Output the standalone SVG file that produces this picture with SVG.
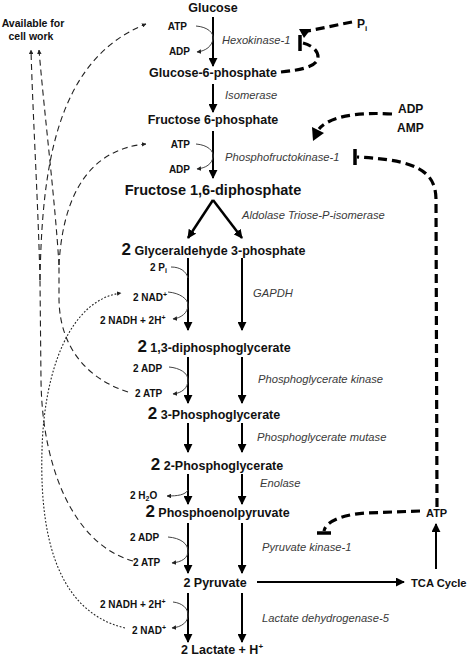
<svg xmlns="http://www.w3.org/2000/svg" width="472" height="657" viewBox="0 0 472 657">
<defs>
<style>
text{font-family:"Liberation Sans",Arial,sans-serif;fill:#111}
.m{font-size:12.5px;font-weight:bold}
.big{font-size:17px}
.c{font-size:10px;font-weight:bold}
.e{font-size:11.2px;font-style:italic;fill:#3a3a3a}
.r{font-size:12px;font-weight:bold}
.main{stroke:#000;stroke-width:2;fill:none;marker-end:url(#arr)}
.co{stroke:#444;stroke-width:1;fill:none}
.coa{marker-end:url(#sa)}
.td{stroke:#000;stroke-width:3.2;fill:none;stroke-dasharray:9 5}
.ld{stroke:#222;stroke-width:1.1;fill:none;stroke-dasharray:6 4}
.dt{stroke:#222;stroke-width:1.1;fill:none;stroke-dasharray:1.8 1.8}
.bar{stroke:#000;stroke-width:3.5}
</style>
<marker id="arr" viewBox="0 0 10 10" refX="9" refY="5" markerWidth="9" markerHeight="9" markerUnits="userSpaceOnUse" orient="auto"><path d="M0,0 L10,5 L0,10 z" fill="#000"/></marker>
<marker id="sa" viewBox="0 0 10 10" refX="9" refY="5" markerWidth="4.5" markerHeight="4.5" markerUnits="userSpaceOnUse" orient="auto"><path d="M0,0 L10,5 L0,10 z" fill="#222"/></marker>
</defs>
<rect width="472" height="657" fill="#fff"/>

<g id="connectors">
<!-- main pathway arrows -->
<line class="main" x1="213" y1="17" x2="213" y2="66"/>
<line class="main" x1="213" y1="84" x2="213" y2="112"/>
<line class="main" x1="213" y1="131" x2="213" y2="178"/>
<line class="main" style="stroke-width:2.5" x1="213" y1="200" x2="188" y2="238"/>
<line class="main" style="stroke-width:2.5" x1="213" y1="200" x2="242" y2="238"/>
<line class="main" x1="188" y1="258" x2="188" y2="330"/>
<line class="main" x1="242" y1="258" x2="242" y2="330"/>
<line class="main" x1="188" y1="357" x2="188" y2="403"/>
<line class="main" x1="242" y1="357" x2="242" y2="403"/>
<line class="main" x1="188" y1="423" x2="188" y2="452"/>
<line class="main" x1="242" y1="423" x2="242" y2="452"/>
<line class="main" x1="188" y1="474" x2="188" y2="504"/>
<line class="main" x1="242" y1="474" x2="242" y2="504"/>
<line class="main" x1="188" y1="523" x2="188" y2="573"/>
<line class="main" x1="242" y1="523" x2="242" y2="573"/>
<line class="main" x1="188" y1="593" x2="188" y2="642"/>
<line class="main" x1="242" y1="593" x2="242" y2="642"/>
<line class="main" x1="257" y1="582" x2="404" y2="582"/>
<line class="main" x1="436" y1="569" x2="436" y2="524"/>
<!-- cofactor curves -->
<path class="co coa" d="M196,26 C208,27 214,33 213,39 C212,46 206,51 197,52"/>
<path class="co coa" d="M196,144 C208,145 214,151 213,157 C212,164 206,168 197,169"/>
<path class="co" d="M171,267 C180,267 186,271 188,278"/>
<path class="co coa" d="M168,292 C180,293 188,299 188,305 C188,313 181,318 173,319"/>
<path class="co coa" d="M169,367 C180,368 188,373 188,380 C188,388 182,393 173,394"/>
<path class="co coa" d="M188,490 C185,495 178,496 167,496"/>
<path class="co coa" d="M168,537 C181,538 188,544 188,551 C188,558 182,562 172,563"/>
<path class="co coa" d="M173,602 C182,603 188,608 188,615 C188,622 182,627 172,628"/>
<!-- regulation (thick dashed) -->
<path class="td" d="M352,22 L308,31"/>
<polygon points="299,29 311,29 304,38" fill="#000"/>
<path class="td" d="M281,72 C300,70 318,67 318,57 C318,50 311,45 303,43"/>
<line class="bar" x1="300" y1="35" x2="300" y2="51"/>
<path class="td" d="M392,114 C358,112 330,116 319,129"/>
<polygon points="313,141 324,133 312,127" fill="#000"/>
<path class="td" d="M437,507 L436,200 C436,170 415,160 357,157"/>
<line class="bar" x1="355" y1="149" x2="355" y2="165"/>
<path class="td" d="M420,511 L365,513 C340,515 326,522 324,531"/>
<line class="bar" x1="317" y1="533" x2="331" y2="533"/>
<!-- ATP usage (long dashed) -->
<path class="ld" d="M133,561 C75,545 42,470 41,380 L40,280"/>
<path class="ld" d="M40,280 C38,200 33,120 31,50" style="marker-end:url(#sa)"/>
<path class="ld" d="M40,280 C42,170 55,60 146,24" style="marker-end:url(#sa)"/>
<path class="ld" d="M128,392 C90,380 60,350 59,300 L59,265"/>
<path class="ld" d="M59,265 C55,200 45,120 39,50" style="marker-end:url(#sa)"/>
<path class="ld" d="M59,265 C62,210 80,150 146,144" style="marker-end:url(#sa)"/>
<!-- NAD+ regeneration (dotted) -->
<path class="dt" d="M125,628 C50,610 40,520 42,450 C44,370 70,300 121,293" style="marker-end:url(#sa)"/>
</g>

<g id="glucose"><text class="m" x="213" y="12" text-anchor="middle">Glucose</text></g>
<g id="hexokinase">
<text class="c" x="187" y="30" text-anchor="end">ATP</text>
<text class="c" x="190" y="55" text-anchor="end">ADP</text>
<text class="e" x="222" y="44">Hexokinase-1</text>
</g>
<g id="g6p"><text class="m" x="213" y="77" text-anchor="middle">Glucose-6-phosphate</text></g>
<g id="isomerase"><text class="e" x="225" y="99">Isomerase</text></g>
<g id="f6p"><text class="m" x="213" y="124" text-anchor="middle">Fructose 6-phosphate</text></g>
<g id="pfk">
<text class="c" x="190" y="148" text-anchor="end">ATP</text>
<text class="c" x="190" y="173" text-anchor="end">ADP</text>
<text class="e" x="225" y="161">Phosphofructokinase-1</text>
</g>
<g id="f16bp"><text class="m" style="font-size:14.5px" x="213" y="195" text-anchor="middle">Fructose 1,6-diphosphate</text></g>
<g id="aldolase"><text class="e" x="242" y="219">Aldolase Triose-P-isomerase</text></g>
<g id="g3p"><text class="m" x="213.5" y="255" text-anchor="middle"><tspan class="big">2</tspan> Glyceraldehyde 3-phosphate</text></g>
<g id="gapdh">
<text class="c" x="150" y="271">2 P<tspan font-size="7" dy="2">i</tspan></text>
<text class="c" x="133" y="301">2 NAD<tspan font-size="7" dy="-4">+</tspan></text>
<text class="c" x="100" y="324">2 NADH + 2H<tspan font-size="7" dy="-4">+</tspan></text>
<text class="e" x="253" y="297">GAPDH</text>
</g>
<g id="bpg"><text class="m" x="214" y="352" text-anchor="middle"><tspan class="big">2</tspan> 1,3-diphosphoglycerate</text></g>
<g id="pgk">
<text class="c" x="133" y="372">2 ADP</text>
<text class="c" x="135" y="397">2 ATP</text>
<text class="e" x="258" y="383">Phosphoglycerate kinase</text>
</g>
<g id="pg3"><text class="m" x="214" y="419" text-anchor="middle"><tspan class="big">2</tspan> 3-Phosphoglycerate</text></g>
<g id="pgm"><text class="e" x="257" y="441">Phosphoglycerate mutase</text></g>
<g id="pg2"><text class="m" x="217" y="470" text-anchor="middle"><tspan class="big">2</tspan> 2-Phosphoglycerate</text></g>
<g id="enolase">
<text class="c" x="130" y="499">2 H<tspan font-size="7" dy="2">2</tspan><tspan dy="-2">O</tspan></text>
<text class="e" x="260" y="487">Enolase</text>
</g>
<g id="pep"><text class="m" x="217.5" y="517" text-anchor="middle"><tspan class="big">2</tspan> Phosphoenolpyruvate</text></g>
<g id="pk">
<text class="c" x="130" y="541">2 ADP</text>
<text class="c" x="133" y="566">2 ATP</text>
<text class="e" x="262" y="551">Pyruvate kinase-1</text>
</g>
<g id="pyruvate"><text class="m" x="215" y="587" text-anchor="middle">2 Pyruvate</text></g>
<g id="tca"><text class="m" style="font-size:11.2px" x="411" y="587">TCA Cycle</text></g>
<g id="atp-tca"><text class="c" style="font-size:11px" x="426" y="517">ATP</text></g>
<g id="ldh">
<text class="c" x="100" y="608">2 NADH + 2H<tspan font-size="7" dy="-4">+</tspan></text>
<text class="c" x="132" y="634">2 NAD<tspan font-size="7" dy="-4">+</tspan></text>
<text class="e" x="262" y="622">Lactate dehydrogenase-5</text>
</g>
<g id="lactate"><text class="m" x="222" y="654" text-anchor="middle">2 Lactate + H<tspan font-size="8" dy="-5">+</tspan></text></g>
<g id="pi"><text class="r" x="357" y="28">P<tspan font-size="8" dy="3">i</tspan></text></g>
<g id="adp-amp">
<text class="r" x="398" y="113">ADP</text>
<text class="r" x="397" y="132">AMP</text>
</g>
<g id="cell-work">
<text class="c" style="font-size:10.5px" x="33" y="27" text-anchor="middle">Available for</text>
<text class="c" style="font-size:10.5px" x="31" y="40" text-anchor="middle">cell work</text>
</g>
</svg>
